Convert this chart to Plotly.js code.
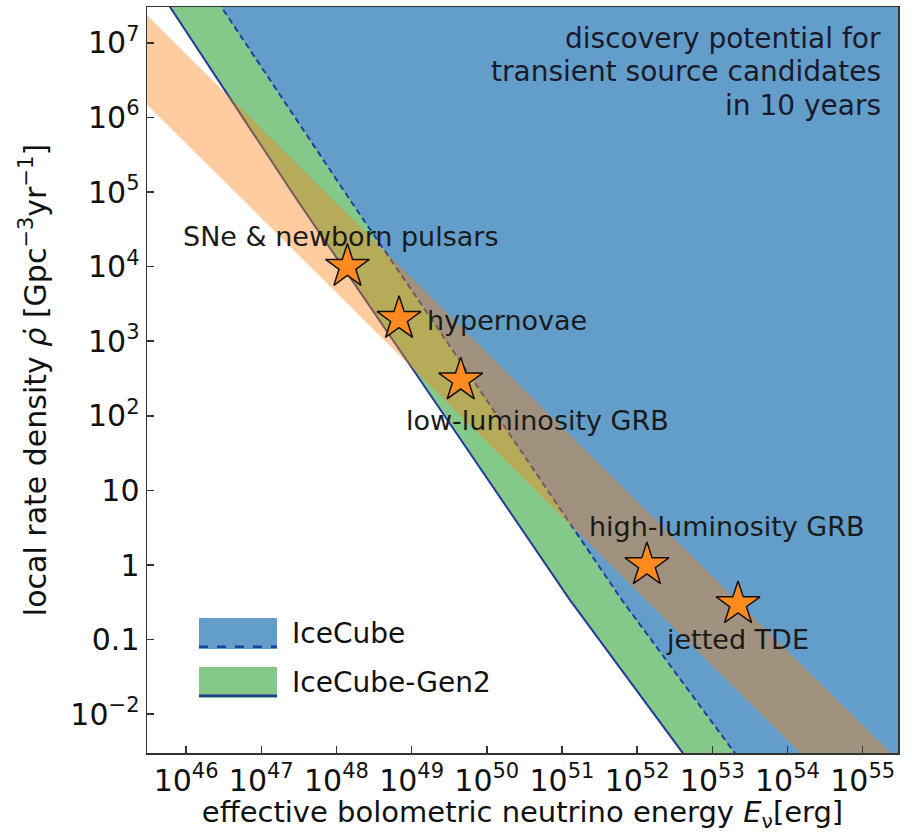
<!DOCTYPE html>
<html><head><meta charset="utf-8">
<script src="https://cdn.plot.ly/plotly-3.0.1.min.js"></script>
<style>html,body{margin:0;padding:0;background:#fff;} #chart{width:912px;height:833px;}</style>
</head><body><div id="chart"></div>
<script>
// IceCube-Gen2 discovery-potential boundary (solid line)
const gen2E   = [2.8e45, 6.1e45, 3.0e47, 1.3e49, 1.28e51, 4.06e52, 9.1e52];
const gen2Rho = [1e8, 3.04e7, 7.8e4, 302, 0.338, 3.0e-3, 1e-3];
// IceCube discovery-potential boundary (dashed line)
const icE   = [1.35e46, 3.0e46, 1.52e48, 6.55e49, 6.28e51, 2.0e53, 4.47e53];
const icRho = [1e8, 2.94e7, 7.8e4, 302, 0.338, 3.09e-3, 1e-3];
// far corner of the discovery region (beyond the visible range)
const regionFarE = [1e56, 1e56];
const regionFarRho = [1e-3, 1e8];
// transient source band (orange)
const bandUpperE = [1e45, 1e56];
const bandUpperRho = [7.08e7, 7.08e-4];
const bandLowerE = [1e45, 1e56];
const bandLowerRho = [4.47e6, 4.47e-5];
// source classes (stars)
const sourceNames = ['SNe &amp; newborn pulsars', 'hypernovae', 'low-luminosity GRB', 'high-luminosity GRB', 'jetted TDE'];
const sourceE   = [1.4e48, 6.8e48, 4.5e49, 1.35e52, 2.2e53];
const sourceRho = [1e4, 2e3, 300, 1, 0.3];
// legend entries
const legendNames = ['IceCube', 'IceCube-Gen2'];
const legendFill  = ['#629ec9', '#84c88a'];
const legendLine  = ['#1f3f9a', '#233b95'];
const legendDash  = ['dash', 'solid'];
// note text
const noteLines = ['discovery potential for', 'transient source candidates', 'in 10 years'];
// ticks
const xTickVals = [1e46, 1e47, 1e48, 1e49, 1e50, 1e51, 1e52, 1e53, 1e54, 1e55];
const xTickText = ['10<sup>46</sup>','10<sup>47</sup>','10<sup>48</sup>','10<sup>49</sup>','10<sup>50</sup>','10<sup>51</sup>','10<sup>52</sup>','10<sup>53</sup>','10<sup>54</sup>','10<sup>55</sup>'];
const yTickVals = [1e-2, 0.1, 1, 10, 100, 1e3, 1e4, 1e5, 1e6, 1e7];
const yTickText = ['10<sup>\u22122</sup>','0.1','1','10','10<sup>2</sup>','10<sup>3</sup>','10<sup>4</sup>','10<sup>5</sup>','10<sup>6</sup>','10<sup>7</sup>'];

const traces = [
  { // Gen2 region: everything right of the solid line
    x: gen2E.concat(regionFarE), y: gen2Rho.concat(regionFarRho),
    mode: 'lines', fill: 'toself', fillcolor: legendFill[1],
    line: {color: legendLine[1], width: 2},
    name: legendNames[1], showlegend: false, hoverinfo: 'skip'
  },
  { // IceCube region: right of the dashed line
    x: icE.concat(regionFarE), y: icRho.concat(regionFarRho),
    mode: 'lines', fill: 'toself', fillcolor: legendFill[0],
    line: {color: legendLine[0], width: 2, dash: '6px,4px'},
    name: legendNames[0], showlegend: false, hoverinfo: 'skip'
  },
  { // orange source band
    x: bandUpperE.concat(bandLowerE.slice().reverse()),
    y: bandUpperRho.concat(bandLowerRho.slice().reverse()),
    mode: 'lines', fill: 'toself', fillcolor: 'rgba(255,127,14,0.4)',
    line: {width: 0}, showlegend: false, hoverinfo: 'skip'
  },
  {
    x: sourceE, y: sourceRho, mode: 'markers', showlegend: false,
    marker: {symbol: 'star', size: 33, color: '#ff8a1f', line: {color: '#111', width: 1.5}},
    text: sourceNames, hoverinfo: 'text'
  }
];

const labelStyle = [
  {xanchor: 'center', yanchor: 'middle', xshift: -7,  yshift: 30},
  {xanchor: 'left',   yanchor: 'middle', xshift: 26,  yshift: -2},
  {xanchor: 'center', yanchor: 'middle', xshift: 77,  yshift: -40},
  {xanchor: 'center', yanchor: 'middle', xshift: 80,  yshift: 39},
  {xanchor: 'center', yanchor: 'middle', xshift: -1,  yshift: -35}
];
const annotations = sourceNames.map((t, i) => Object.assign({
  x: Math.log10(sourceE[i]), y: Math.log10(sourceRho[i]), xref: 'x', yref: 'y',
  text: t, showarrow: false, font: {size: 27, color: '#1a1a1a'}
}, labelStyle[i]));
noteLines.forEach((t, i) => annotations.push({
  xref: 'paper', yref: 'paper', x: 0.98, y: 0.9584, xanchor: 'right', yanchor: 'middle',
  yshift: -33.5 * i, showarrow: false, text: t, font: {size: 28, color: '#1a1a2a'}
}));

// hand-made legend (patch with boundary line underneath, like the reference)
const legendRowY = [[0.1394, 0.1810], [0.0737, 0.1153]];
const shapes = [];
legendNames.forEach((n, i) => {
  shapes.push({type: 'rect', xref: 'paper', yref: 'paper', x0: 0.0692, x1: 0.1731,
               y0: legendRowY[i][0], y1: legendRowY[i][1], fillcolor: legendFill[i], line: {width: 0}, layer: 'above'});
  shapes.push({type: 'line', xref: 'paper', yref: 'paper', x0: 0.0692, x1: 0.1731,
               y0: legendRowY[i][0] + 0.003, y1: legendRowY[i][0] + 0.003,
               line: {color: legendLine[i], width: 2.5, dash: legendDash[i]}, layer: 'above'});
  annotations.push({xref: 'paper', yref: 'paper', x: 0.1904, y: (legendRowY[i][0] + legendRowY[i][1]) / 2,
                    xanchor: 'left', yanchor: 'middle', showarrow: false, text: n,
                    font: {size: 28, color: '#111'}});
});

const axisCommon = {
  type: 'log', ticks: 'inside', ticklen: 7, tickwidth: 1.5, tickcolor: '#333',
  showline: true, linecolor: '#333', linewidth: 1.5, mirror: true,
  showgrid: false, zeroline: false, tickfont: {size: 30, color: '#111'}
};

const layout = {
  width: 912, height: 833,
  margin: {l: 147, r: 14, t: 7, b: 80},
  paper_bgcolor: '#fff', plot_bgcolor: '#fff',
  font: {family: 'DejaVu Sans, Verdana, sans-serif', color: '#111'},
  showlegend: false,
  xaxis: Object.assign({}, axisCommon, {
    range: [45.48, 55.47], tickvals: xTickVals, ticktext: xTickText,
    title: {text: 'effective bolometric neutrino energy <i>E</i><sub>\u03bd</sub>[erg]', font: {size: 29}, standoff: 10}
  }),
  yaxis: Object.assign({}, axisCommon, {
    range: [-2.52, 7.48], tickvals: yTickVals, ticktext: yTickText,
    title: {text: 'local rate density <i>\u03c1\u0307</i> [Gpc<sup>\u22123</sup>yr<sup>\u22121</sup>]', font: {size: 30}, standoff: 15}
  }),
  shapes: shapes,
  annotations: annotations
};

Plotly.newPlot('chart', traces, layout, {displayModeBar: false, staticPlot: true});
</script>
</body></html>
